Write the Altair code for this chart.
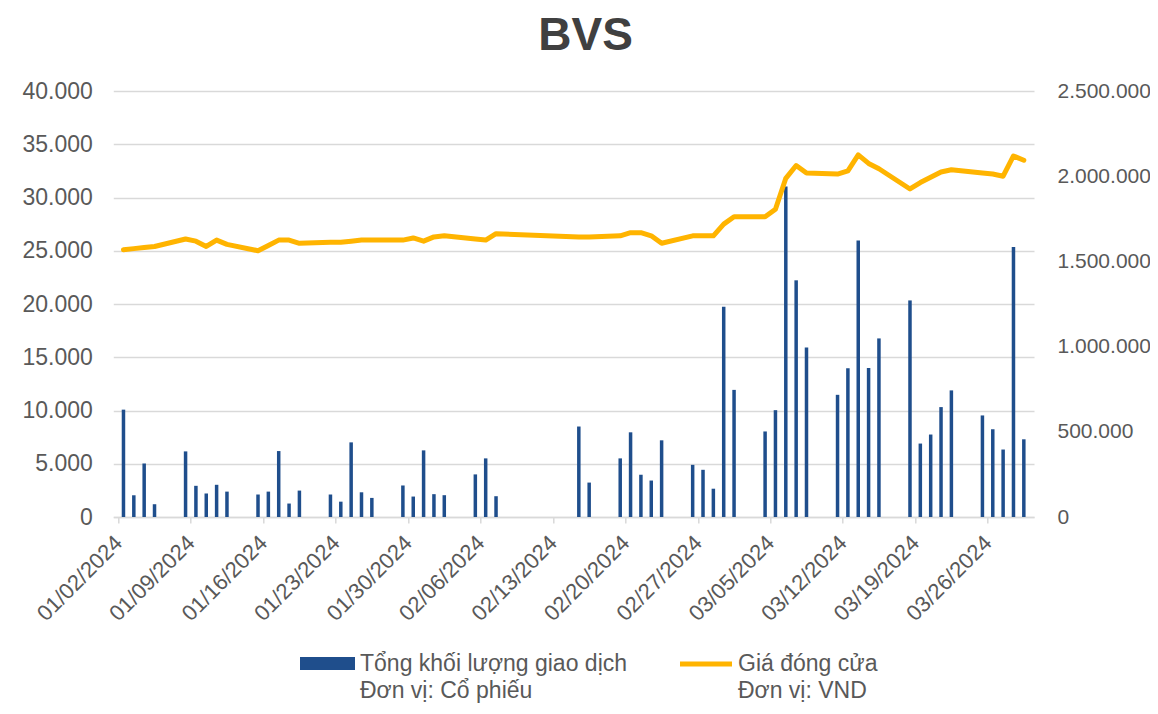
import altair as alt
import pandas as pd

dates = [
    "2024-01-02", "2024-01-03", "2024-01-04", "2024-01-05", "2024-01-08", "2024-01-09",
    "2024-01-10", "2024-01-11", "2024-01-12", "2024-01-15", "2024-01-16", "2024-01-17",
    "2024-01-18", "2024-01-19", "2024-01-22", "2024-01-23", "2024-01-24", "2024-01-25",
    "2024-01-26", "2024-01-29", "2024-01-30", "2024-01-31",
    "2024-02-01", "2024-02-02", "2024-02-05", "2024-02-06", "2024-02-07", "2024-02-15",
    "2024-02-16", "2024-02-19", "2024-02-20", "2024-02-21", "2024-02-22", "2024-02-23",
    "2024-02-26", "2024-02-27", "2024-02-28", "2024-02-29",
    "2024-03-01", "2024-03-04", "2024-03-05", "2024-03-06", "2024-03-07", "2024-03-08",
    "2024-03-11", "2024-03-12", "2024-03-13", "2024-03-14", "2024-03-15", "2024-03-18",
    "2024-03-19", "2024-03-20", "2024-03-21", "2024-03-22", "2024-03-25", "2024-03-26",
    "2024-03-27", "2024-03-28", "2024-03-29",
]

volume = [
    630000, 127500, 314000, 75000, 385000, 183000,
    138000, 189000, 149000, 132000, 149000, 387000,
    79000, 155000, 132000, 90000, 438000, 145000,
    112000, 185000, 120000, 391000,
    134000, 128000, 250000, 344000, 122000, 531000,
    202000, 344000, 497000, 248000, 214000, 450000,
    306000, 277000, 166000, 1234000,
    746000, 502000, 627000, 1939000, 1389000, 994000,
    717000, 873000, 1623000, 875000, 1048000, 1271000,
    431000, 484000, 645000, 743000, 596000, 515000,
    396000, 1585000, 456000,
]

price = [
    25100, 25200, 25300, 25400, 26100, 25900,
    25400, 26000, 25600, 25000, 25500, 26000,
    26000, 25700, 25800, 25800, 25900, 26000,
    26000, 26000, 26200, 25900,
    26300, 26400, 26100, 26000, 26600, 26300,
    26300, 26400, 26700, 26700, 26400, 25700,
    26400, 26400, 26400, 27500,
    28200, 28200, 28900, 31800, 33000, 32300,
    32200, 32500, 34000, 33200, 32700, 30800,
    31400, 31900, 32400, 32600, 32300, 32200,
    32000, 33900, 33500,
]

left_ticks = [0, 5000, 10000, 15000, 20000, 25000, 30000, 35000, 40000]
right_ticks = [0, 500000, 1000000, 1500000, 2000000, 2500000]
week_ticks = [0, 7, 14, 21, 28, 35, 42, 49, 56, 63, 70, 77, 84]

legend_bar = "Tổng khối lượng giao dịch\nĐơn vị: Cổ phiếu"
legend_line = "Giá đóng cửa\nĐơn vị: VND"

df = pd.DataFrame({"date": dates, "volume": volume, "price": price})
df["day"] = (pd.to_datetime(df["date"]) - pd.Timestamp("2024-01-02")).dt.days + 0.5

FONT = "Liberation Sans"
LABEL = "#595959"
GRID = "#d9d9d9"
BLUE = "#1F4E8C"
GOLD = "#FFB400"

fmt = "replace(replace(format(datum.value, ','), ',', '.'), ',', '.')"

x_scale = alt.Scale(domain=[0, 88], nice=False, zero=False)
x_axis = alt.Axis(
    values=week_ticks,
    labelExpr="timeFormat(datetime(2024, 0, 2 + datum.value), '%m/%d/%Y')",
    labelAngle=-45, labelAlign="right", labelBaseline="middle",
    labelFontSize=22, labelColor=LABEL, labelFont=FONT, labelPadding=16,
    domainColor=GRID, domainWidth=1.5, tickColor=GRID, tickWidth=1.5, tickSize=6,
    grid=False, title=None, labelOverlap=False,
)

bars = alt.Chart(df).mark_bar(size=3.5, color=BLUE).encode(
    x=alt.X("day:Q", scale=x_scale, axis=x_axis),
    y=alt.Y(
        "volume:Q",
        scale=alt.Scale(domain=[0, 2500000], nice=False),
        axis=alt.Axis(
            orient="right", values=right_ticks, labelExpr=fmt, grid=False,
            domain=False, ticks=False, title=None, labelFontSize=21,
            labelColor=LABEL, labelFont=FONT, labelPadding=23,
        ),
    ),
)

line = alt.Chart(df).mark_line(
    color=GOLD, strokeWidth=5, strokeJoin="round", strokeCap="round"
).encode(
    x=alt.X("day:Q", scale=x_scale, axis=x_axis),
    y=alt.Y(
        "price:Q",
        scale=alt.Scale(domain=[0, 40000], nice=False),
        axis=alt.Axis(
            orient="left", values=left_ticks, labelExpr=fmt, grid=True,
            gridColor=GRID, gridWidth=1.5, domain=False, ticks=False,
            title=None, labelFontSize=23, labelColor=LABEL, labelFont=FONT,
            labelPadding=21,
        ),
    ),
)

leg_df1 = pd.DataFrame({"t": [legend_bar]})
leg_df2 = pd.DataFrame({"t": [legend_line]})

leg_rect = alt.Chart(leg_df1).mark_rect(color=BLUE).encode(
    x=alt.value(186.7), x2=alt.value(241.7), y=alt.value(566), y2=alt.value(579)
)
leg_text1 = alt.Chart(leg_df1).mark_text(
    align="left", baseline="top", lineBreak="\n", lineHeight=27,
    fontSize=23, font=FONT, color=LABEL,
).encode(x=alt.value(246.7), y=alt.value(562), text="t:N")

leg_rule = alt.Chart(leg_df2).mark_rule(color=GOLD, strokeWidth=5).encode(
    x=alt.value(566.7), x2=alt.value(618.7), y=alt.value(573)
)
leg_text2 = alt.Chart(leg_df2).mark_text(
    align="left", baseline="top", lineBreak="\n", lineHeight=27,
    fontSize=23, font=FONT, color=LABEL,
).encode(x=alt.value(624.7), y=alt.value(562), text="t:N")

chart = alt.layer(bars, line, leg_rect, leg_rule, leg_text1, leg_text2).resolve_scale(
    y="independent"
).properties(
    width=920.7,
    height=426,
    autosize="none",
    padding={"left": 105.3, "top": 83, "right": 116, "bottom": 189},
    title=alt.TitleParams(
        "BVS", fontSize=46, fontWeight="bold", color="#404040", font=FONT,
        anchor="middle", offset=20, dx=12,
    ),
    background="white",
).configure_view(stroke=None)

chart.save("out.html", embed_options={"renderer": "svg", "actions": False})
